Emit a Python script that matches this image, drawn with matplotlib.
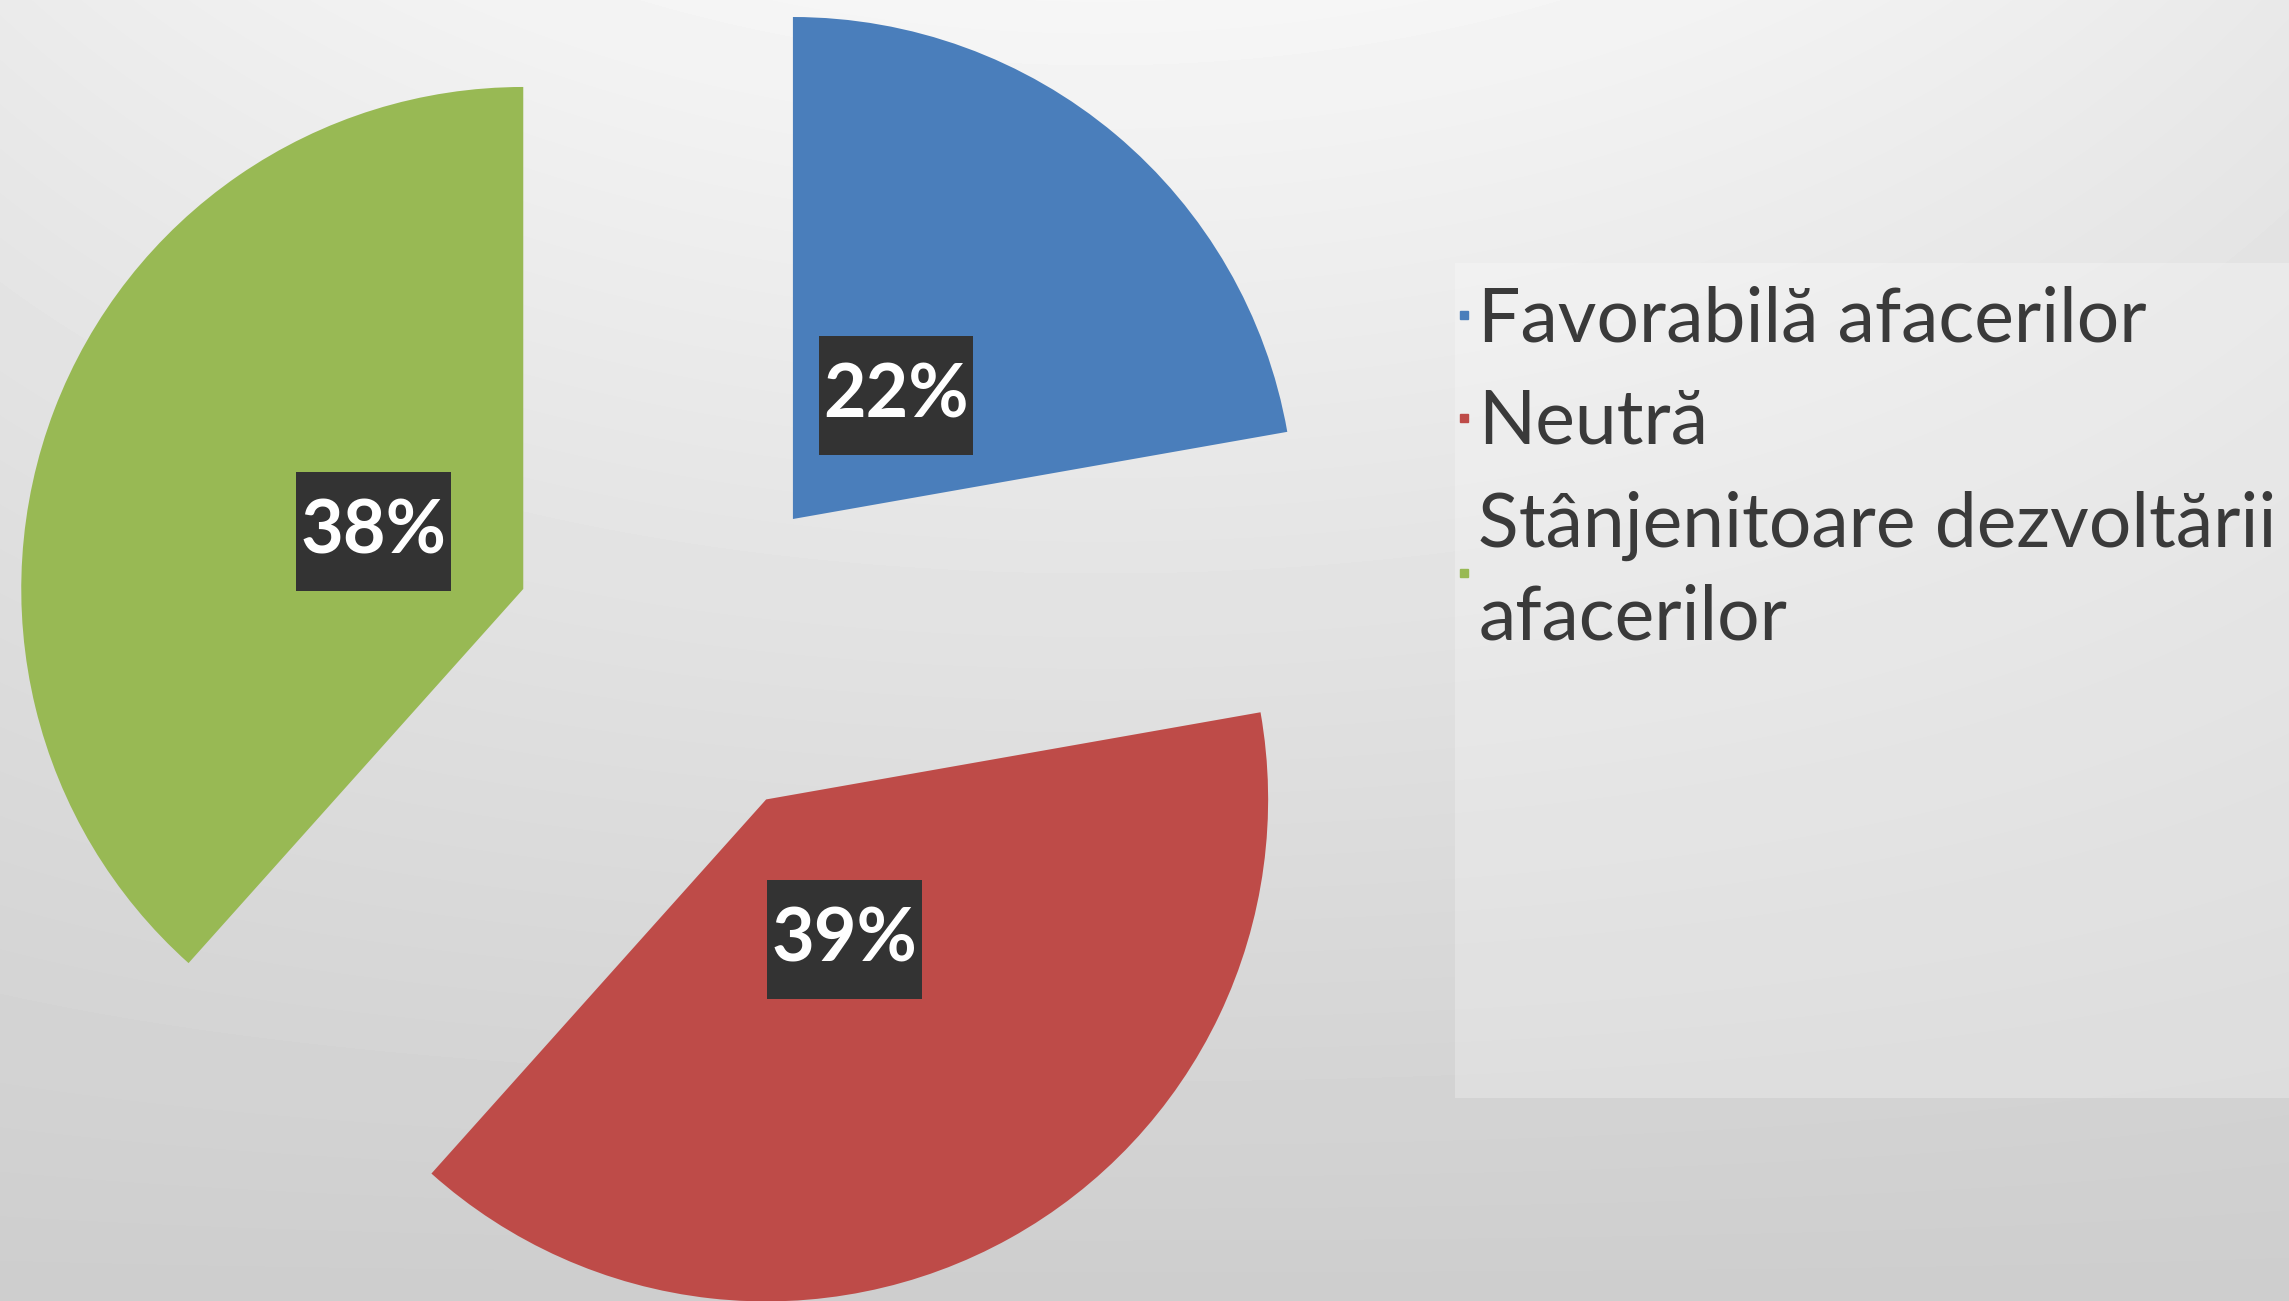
import numpy as np
import matplotlib.pyplot as plt
from matplotlib.patches import Rectangle
from matplotlib.lines import Line2D
from matplotlib.path import Path

categories = ['Favorabilă afacerilor', 'Neutră', 'Stânjenitoare dezvoltării\nafacerilor']
shares = [22, 39, 38]
colors = ['#4a7ebb', '#be4b48', '#98b954']

W, H = 2289, 1301
plt.rcParams['font.family'] = ['Lato', 'DejaVu Sans']


def label_box(x0, y0, width, height, mutation_size):
    # narrow at the sides, tall above and below, like the Office data labels
    px, py = 0.06 * mutation_size, 0.34 * mutation_size
    x0, y0 = x0 - px, y0 - py
    x1, y1 = x0 + width + 2 * px, y0 + height + 2 * py
    return Path([(x0, y0), (x1, y0), (x1, y1), (x0, y1), (x0, y0)], closed=True)


fig = plt.figure(figsize=(W / 100, H / 100), dpi=100)
ax = fig.add_axes([0, 0, 1, 1])

# soft grey gradient behind everything
yy, xx = np.mgrid[0:H, 0:W]
t = yy / H
hx = ((xx - 1100) / 1150) ** 2
bg = 0.965 - 0.16 * t - 0.05 * hx * (1 - t)
ax.imshow(bg, extent=(0, W, 0, H), origin='upper', cmap='gray',
          vmin=0, vmax=1, zorder=0, interpolation='bilinear')

# legend panel
ax.add_patch(Rectangle((1455, 203), W - 1455, 835, fc='white', ec='none',
                       alpha=0.25, zorder=1))

wedges, _, autotexts = ax.pie(
    shares, colors=colors, startangle=90, counterclock=False,
    center=(683, 651), radius=502, explode=[171] * 3,
    autopct='%1.0f%%', pctdistance=0.32,
    wedgeprops=dict(linewidth=0, zorder=2),
    textprops=dict(color='white', fontsize=53, fontweight='bold'))
for txt in autotexts:
    txt.set_bbox(dict(boxstyle=label_box, fc='#333333', ec='none'))
    txt.set_zorder(3)

handles = [Line2D([], [], marker='s', ls='none', color=c, markersize=6)
           for c in colors]
leg = ax.legend(handles, categories, loc='upper left',
                bbox_to_anchor=(1456 / W, 1 - 285 / H), frameon=False,
                fontsize=54, handlelength=0.2, handletextpad=0.1,
                labelspacing=0.45, borderpad=0, borderaxespad=0,
                labelcolor='#3a3a3a')
leg.get_texts()[2].set_linespacing(1.41)

ax.set_xlim(0, W)
ax.set_ylim(0, H)
ax.set_aspect('equal')
ax.axis('off')

fig.savefig('out.png', dpi=100)
